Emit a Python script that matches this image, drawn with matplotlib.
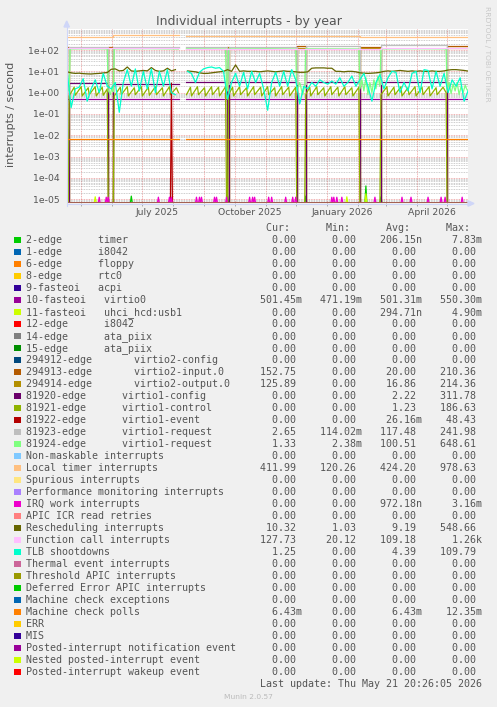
"""Munin 'Individual interrupts - by year' graph, redrawn with matplotlib.

The rrdtool canvas is a 400 px wide log plot (one pixel per day) with the
long monospace legend underneath. Data are day offsets from 2025-04-17.
"""

import datetime as dt

import matplotlib

matplotlib.use("Agg")
import matplotlib.dates as mdates
import matplotlib.pyplot as plt
import numpy as np
from matplotlib.lines import Line2D
from matplotlib.patches import Polygon, Rectangle
from matplotlib.ticker import FixedLocator, LogLocator, NullFormatter

nan = np.nan

W, H = 497, 707
START = dt.datetime(2025, 4, 17)
X_LEFT = dt.datetime(2025, 4, 16, 20, 26, 5)
X_RIGHT = dt.datetime(2026, 5, 21, 20, 26, 5)
Y_LOW, Y_HIGH = 10 ** -5.19, 10 ** 3.0

# ---- legend -------------------------------------------------------------
labels = [
    "2-edge      timer",
    "1-edge      i8042",
    "6-edge      floppy",
    "8-edge      rtc0",
    "9-fasteoi   acpi",
    "10-fasteoi   virtio0",
    "11-fasteoi   uhci_hcd:usb1",
    "12-edge      i8042",
    "14-edge      ata_piix",
    "15-edge      ata_piix",
    "294912-edge       virtio2-config",
    "294913-edge       virtio2-input.0",
    "294914-edge       virtio2-output.0",
    "81920-edge      virtio1-config",
    "81921-edge      virtio1-control",
    "81922-edge      virtio1-event",
    "81923-edge      virtio1-request",
    "81924-edge      virtio1-request",
    "Non-maskable interrupts",
    "Local timer interrupts",
    "Spurious interrupts",
    "Performance monitoring interrupts",
    "IRQ work interrupts",
    "APIC ICR read retries",
    "Rescheduling interrupts",
    "Function call interrupts",
    "TLB shootdowns",
    "Thermal event interrupts",
    "Threshold APIC interrupts",
    "Deferred Error APIC interrupts",
    "Machine check exceptions",
    "Machine check polls",
    "ERR",
    "MIS",
    "Posted-interrupt notification event",
    "Nested posted-interrupt event",
    "Posted-interrupt wakeup event",
]

colors = [
    "#00CC00", "#0066B3", "#FF8000", "#FFCC00", "#330099", "#990099",
    "#CCFF00", "#FF0000", "#808080", "#008F00", "#00487D", "#B35A00",
    "#B38F00", "#6B006B", "#8FB300", "#B30000", "#BEBEBE", "#80FF80",
    "#80C9FF", "#FFC080", "#FFE680", "#AA80FF", "#EE00CC", "#FF8080",
    "#666600", "#FFBFFF", "#00FFCC", "#CC6699", "#999900", "#00CC00",
    "#0066B3", "#FF8000", "#FFCC00", "#330099", "#990099", "#CCFF00",
    "#FF0000",
]

Z = "0.00"
cur = [Z, Z, Z, Z, Z, "501.45m", Z, Z, Z, Z, Z, "152.75", "125.89", Z, Z, Z,
       "2.65", "1.33", Z, "411.99", Z, Z, Z, Z, "10.32", "127.73", "1.25",
       Z, Z, Z, Z, "6.43m", Z, Z, Z, Z, Z]
mins = [Z, Z, Z, Z, Z, "471.19m", Z, Z, Z, Z, Z, Z, Z, Z, Z, Z,
        "114.02m", "2.38m", Z, "120.26", Z, Z, Z, Z, "1.03", "20.12", Z,
        Z, Z, Z, Z, Z, Z, Z, Z, Z, Z]
avgs = ["206.15n", Z, Z, Z, Z, "501.31m", "294.71n", Z, Z, Z, Z, "20.00",
        "16.86", "2.22", "1.23", "26.16m", "117.48", "100.51", Z, "424.20",
        Z, Z, "972.18n", Z, "9.19", "109.18", "4.39", Z, Z, Z, Z, "6.43m",
        Z, Z, Z, Z, Z]
maxs = ["7.83m", Z, Z, Z, Z, "550.30m", "4.90m", Z, Z, Z, Z, "210.36",
        "214.36", "311.78", "186.63", "48.43", "241.98", "648.61", Z,
        "978.63", Z, Z, "3.16m", Z, "548.66", "1.26k", "109.79", Z, Z, Z,
        Z, "12.35m", Z, Z, Z, Z, Z]

# ---- series data (day offsets from 2025-04-17) ---------------------------
# breakpoints shared by the virtio step series (device swaps after reboots)
swap_days = [0, 2, 41, 46, 112, 119, 159, 161, 229, 238, 292, 313, 379, 400]
input0_vals = [140, 0, 145, 0, nan, 0, 140, 0, 150, 0, 145, 0, 160, 160]
output0_vals = [120, 0, 118, 0, nan, 0, 120, 0, 125, 0, 122, 0, 126, 126]
v1config_vals = [0, 2.7, 0, 2.6, nan, 3.2, 0, 3.1, 0, 3.2, 0, 3.3, 0, 0]
v1req23_vals = [2.6, 138, 2.6, 140, nan, 140, 2.6, 142, 2.6, 150, 2.6, 165,
                2.65, 2.65]

flat_days = [0, 112, 119, 400]
virtio0_vals = [0.50, nan, 0.50, 0.50]
mc_poll_vals = [0.00643, nan, 0.00643, 0.00643]

ltimer_days = [0, 46, 112, 119, 292, 379, 400]
ltimer_vals = [430, 490, nan, 440, 430, 412, 412]

fcall_days = [0, 112, 119, 313, 379, 400]
fcall_vals = [118, nan, 117, 120, 125, 125]

control_days = [
    0, 1, 2, 7, 8, 14, 15, 21, 22, 28, 29, 35, 36, 40, 41,
    46, 47, 53, 54, 60, 61, 67, 68, 74, 75, 81, 82, 88, 89, 95, 96, 102, 103,
    109, 111, 112,
    119, 123, 124, 130, 131, 137, 138, 144, 145, 151, 152, 158, 159,
    160, 161, 165, 166, 172, 173, 179, 180, 186, 187, 193, 194, 200, 201, 207,
    208, 214, 215, 221, 222, 228, 229,
    237, 238, 242, 243, 249, 250, 256, 257, 263, 264, 270, 271, 277, 278, 284,
    285, 291, 292,
    312, 313, 319, 320, 326, 327, 333, 334, 340, 341, 347, 348, 354, 355, 361,
    362, 368, 369, 375, 378, 379, 400,
]
control_vals = [
    0, 0, 0.7, 1.8, 0.75, 1.9, 0.7, 1.7, 0.8, 1.9, 0.7, 1.8, 0.75, 1.5, 0,
    0, 0.7, 1.8, 0.8, 1.9, 0.7, 1.7, 0.8, 1.9, 0.7, 1.8, 0.75, 1.9, 0.8, 1.7,
    0.7, 1.9, 0.8, 1.7, 1.0, nan,
    0.8, 1.8, 0.7, 1.9, 0.8, 1.7, 0.7, 1.9, 0.8, 1.8, 0.7, 1.9, 0,
    0, 0.8, 1.8, 0.7, 1.9, 0.8, 1.7, 0.7, 1.9, 0.8, 1.8, 0.7, 1.9, 0.8, 1.7,
    0.7, 1.9, 0.8, 1.8, 0.7, 1.8, 0,
    0, 0.8, 1.8, 0.7, 1.9, 0.8, 1.7, 0.7, 1.9, 0.8, 1.8, 0.7, 1.9, 0.8, 1.7,
    0.7, 1.8, 0,
    0, 0.8, 1.9, 0.7, 1.8, 0.8, 1.9, 0.7, 1.7, 0.8, 1.9, 0.7, 1.8, 0.8, 1.9,
    0.7, 1.7, 0.8, 1.8, 1.0, 0, 0,
]

v1req24_days = [0, 2, 3, 20, 40, 41, 43, 45, 46, 47, 80, 111, 112, 119, 158,
                159, 160, 161, 200, 228, 229, 232, 235, 237, 238, 270, 291,
                292, 294, 296, 298, 300, 302, 304, 306, 308, 310, 312, 313,
                350, 378, 379, 381, 383, 385, 387, 389, 391, 393, 395, 397,
                399, 400]
v1req24_vals = [1.5, 1.2, 112, 115, 112, 1.3, 0.8, 2, 1.1, 113, 116, 112, nan,
                114, 112, 1.5, 1.2, 113, 115, 112, 1.2, 3, 0.8, 2, 114, 113,
                112, 1.5, 4, 1.2, 5, 0.8, 3, 1.0, 4, 1.5, 6, 2, 113, 115, 113,
                1.5, 3, 0.9, 2.5, 1.2, 3, 0.8, 2, 1.0, 2.2, 1.33, 1.33]

event_days = [0, 103, 104, 105, 400]
event_vals = [0, 0, 2.8, 0, 0]

# noisy series sampled every 4 days (days 0, 4, ..., 400)
grid_days = list(range(0, 401, 4))
tlb_vals = [
    10, 0.2, 1.5, 1.8, 4.5, 0.4, 1.5, 4, 1.0, 8, 2,
    1.5, 3, 0.12, 3, 12, 2, 13, 1.2, 10, 1.5,
    13, 1, 10, 2, 12, 1.0, 0.8, nan, nan, 10,
    8, 3, 9, 13, 15, 16, 14, 15, 10, 0.5,
    3, 8, 2, 9, 1.5, 10, 3, 8, 1.5, 0.15,
    3, 9, 2, 10, 2, 12, 4, 0.3, 2, 1.5,
    3, 2, 4, 3, 2.5, 3.5, 2.5, 5, 2, 3,
    6, 2, 4, 8, 2, 0.4, 3, 7, 1.5, 5,
    10, 9, 1, 3, 1.2, 8, 10, 1, 12, 11,
    1.5, 10, 2, 8, 1.0, 4, 2, 5, 0.4, 1.25,
]
resched_vals = [
    9.5, 8.5, 8.0, 8.2, 7.8, 7.6, 7.5, 7.8, 8.0, 8.4, 8.8,
    12.5, 13, 10.5, 11, 16, 10.5, 10, 10.5, 11, 10.5,
    15, 11, 10, 10.5, 14, 10.5, 12, nan, nan, 10.5,
    10, 9.5, 8.5, 8, 8, 8.5, 9, 9.5, 10, 12,
    10, 20, 10, 10.5, 10, 10, 10, 9.5, 10, 10.5,
    10, 9.5, 10, 10.5, 10, 10, 9.5, 9, 9, 9.5,
    14, 14.5, 14.5, 14.5, 14, 14, 10, 10, 9.5, 10,
    10, 9.5, 8.5, 8.2, 8, 8.2, 8.5, 9, 10, 10.5,
    10, 10.5, 11, 10.5, 10, 10.5, 10, 10.5, 10, 10,
    10.5, 10, 10, 10.5, 11.5, 12, 12, 11.5, 11, 10.3,
]

# short bursts that barely clear the bottom of the log axis
timer_spike_days = [64, 160, 238, 298, 313]
timer_spike_peaks = [1.4e-5, 1.4e-5, 1.4e-5, 4.2e-5, 1.3e-5]
usb_spike_days = [1, 28, 279, 298]
usb_spike_peaks = [2.6e-5, 1.3e-5, 1.3e-5, 1.8e-5]
irqwork_spike_days = [32, 39, 41, 91, 102, 104, 129, 132, 134, 147, 149, 159,
                      182, 185, 187, 201, 204, 218, 225, 228, 264, 266, 269,
                      274, 307, 334, 343, 360, 373, 377, 394]
irqwork_spike_peak = 1.25e-5

ZERO = ([0, 400], [0, 0])

FONT = "#555555"
AXIS = "#CFD6F8"


def spikes(days, peaks):
    xs, ys = [0], [0]
    for d, p in zip(days, peaks):
        xs += [d - 1, d, d + 1]
        ys += [0, p, 0]
    return xs + [400], ys + [0]


def field(s):
    return (s if s[-1].isalpha() else s + " ").rjust(7)


def fx(px):
    return px / W


def fy(py):
    return 1 - py / H


def main() -> None:
    traces = [
        spikes(timer_spike_days, timer_spike_peaks) + (False,),
        ZERO + (False,), ZERO + (False,), ZERO + (False,), ZERO + (False,),
        (flat_days, virtio0_vals, True),
        spikes(usb_spike_days, usb_spike_peaks) + (False,),
        ZERO + (False,), ZERO + (False,), ZERO + (False,), ZERO + (False,),
        (swap_days, input0_vals, True),
        (swap_days, output0_vals, True),
        (swap_days, v1config_vals, True),
        (control_days, control_vals, False),
        (event_days, event_vals, False),
        (swap_days, v1req23_vals, True),
        (v1req24_days, v1req24_vals, False),
        ZERO + (False,),
        (ltimer_days, ltimer_vals, True),
        ZERO + (False,), ZERO + (False,),
        spikes(irqwork_spike_days,
               [irqwork_spike_peak] * len(irqwork_spike_days)) + (False,),
        ZERO + (False,),
        (grid_days, resched_vals, False),
        (fcall_days, fcall_vals, True),
        (grid_days, tlb_vals, False),
        ZERO + (False,), ZERO + (False,), ZERO + (False,), ZERO + (False,),
        (flat_days, mc_poll_vals, True),
        ZERO + (False,), ZERO + (False,), ZERO + (False,), ZERO + (False,),
        ZERO + (False,),
    ]

    fig = plt.figure(figsize=(W / 100, H / 100), dpi=100, facecolor="#F0F0F0")
    ax = fig.add_axes([fx(67), fy(203.3), 401 / W, 174.6 / H])
    ax.set_facecolor("white")
    for sp in ax.spines.values():
        sp.set_visible(False)

    t0 = mdates.date2num(START)
    for (days, vals, steps), color in zip(traces, colors):
        x = t0 + np.asarray(days, dtype=float)
        # rrdtool pins zero to the bottom of a log canvas
        y = np.maximum(np.asarray(vals, dtype=float), Y_LOW)
        ax.plot(x, y, color=color, lw=0.9,
                drawstyle="steps-post" if steps else "default")

    ax.set_yscale("log")
    ax.set_ylim(Y_LOW, Y_HIGH)
    ax.set_xlim(mdates.date2num(X_LEFT), mdates.date2num(X_RIGHT))

    ax.yaxis.set_major_locator(FixedLocator(10.0 ** np.arange(-5, 3)))
    ax.yaxis.set_minor_locator(LogLocator(base=10, subs=np.arange(2, 10),
                                          numticks=30))
    ax.yaxis.set_minor_formatter(NullFormatter())
    ax.yaxis.set_major_formatter(lambda v, _: f"{v:.0e}")

    ax.xaxis.set_major_locator(mdates.MonthLocator(bymonth=(1, 4, 7, 10),
                                                   bymonthday=16))
    ax.xaxis.set_major_formatter(mdates.DateFormatter("%B %Y"))
    ax.xaxis.set_minor_locator(mdates.MonthLocator())

    ax.tick_params(axis="y", which="both", length=0, pad=5.5,
                   labelsize=6.7, labelcolor=FONT)
    ax.tick_params(axis="x", which="major", length=0, pad=3.2,
                   labelsize=6.7, labelcolor=FONT)
    ax.tick_params(axis="x", which="minor", length=1.8, width=0.7,
                   color="#AAAAAA", direction="out")

    dotted = (0, (1, 1))
    ax.set_axisbelow(True)
    ax.grid(which="major", axis="y", color="#DE5050", alpha=0.6, lw=0.6,
            ls=dotted)
    ax.grid(which="minor", axis="y", color="#8F8F8F", alpha=0.6, lw=0.6,
            ls=dotted)
    ax.grid(which="minor", axis="x", color="#DE5050", alpha=0.6, lw=0.6,
            ls=dotted)

    # axes with rrdtool arrows
    fig.add_artist(Line2D([fx(66.5), fx(470)], [fy(203.5), fy(203.5)],
                          transform=fig.transFigure, color=AXIS, lw=0.8))
    fig.add_artist(Line2D([fx(66.7), fx(66.7)], [fy(205.5), fy(25)],
                          transform=fig.transFigure, color=AXIS, lw=0.8))
    fig.add_artist(Polygon([[fx(468), fy(200.8)], [fx(474), fy(203.5)],
                            [fx(468), fy(206.2)]], closed=True,
                           transform=fig.transFigure, color=AXIS))
    fig.add_artist(Polygon([[fx(64), fy(27)], [fx(66.7), fy(21)],
                            [fx(69.4), fy(27)]], closed=True,
                           transform=fig.transFigure, color=AXIS))

    fig.text(fx(248.5), fy(25), "Individual interrupts - by year",
             ha="center", va="baseline", size=9, color=FONT)
    fig.text(fx(11), fy(114), "interrupts / second", rotation=90,
             ha="center", va="center", size=8, color=FONT)
    fig.text(fx(487.5), fy(53.5), "RRDTOOL / TOBI OETIKER", rotation=270,
             ha="center", va="center", size=5.4, color="#C8C8C8")

    mono = dict(family="DejaVu Sans Mono", size=7.2, color=FONT,
                ha="left", va="baseline")
    x0 = fx(25.7)
    header = " " * 40 + "Cur:" + " " * 6 + "Min:" + " " * 6 + "Avg:" + \
        " " * 6 + "Max:"
    fig.text(x0, fy(231), header, **mono)
    for i, lab in enumerate(labels):
        base = 243.3 + 12.0 * i
        row = (lab.ljust(39) + field(cur[i]) + "   " + field(mins[i]) + "   "
               + field(avgs[i]) + "   " + field(maxs[i]))
        fig.text(x0, fy(base), row, **mono)
        fig.add_artist(Rectangle((fx(14), fy(base)), 6.5 / W, 6.2 / H,
                                 transform=fig.transFigure, color=colors[i],
                                 lw=0))
    fig.text(x0, fy(687), " " * 39 + "Last update: Thu May 21 20:26:05 2026",
             **mono)
    fig.text(fx(248), fy(698.7), "Munin 2.0.57", ha="center", va="baseline",
             size=5.4, color="#BBBBBB")

    fig.savefig("out.png", dpi=100, facecolor=fig.get_facecolor())
    plt.close(fig)


if __name__ == "__main__":
    main()
